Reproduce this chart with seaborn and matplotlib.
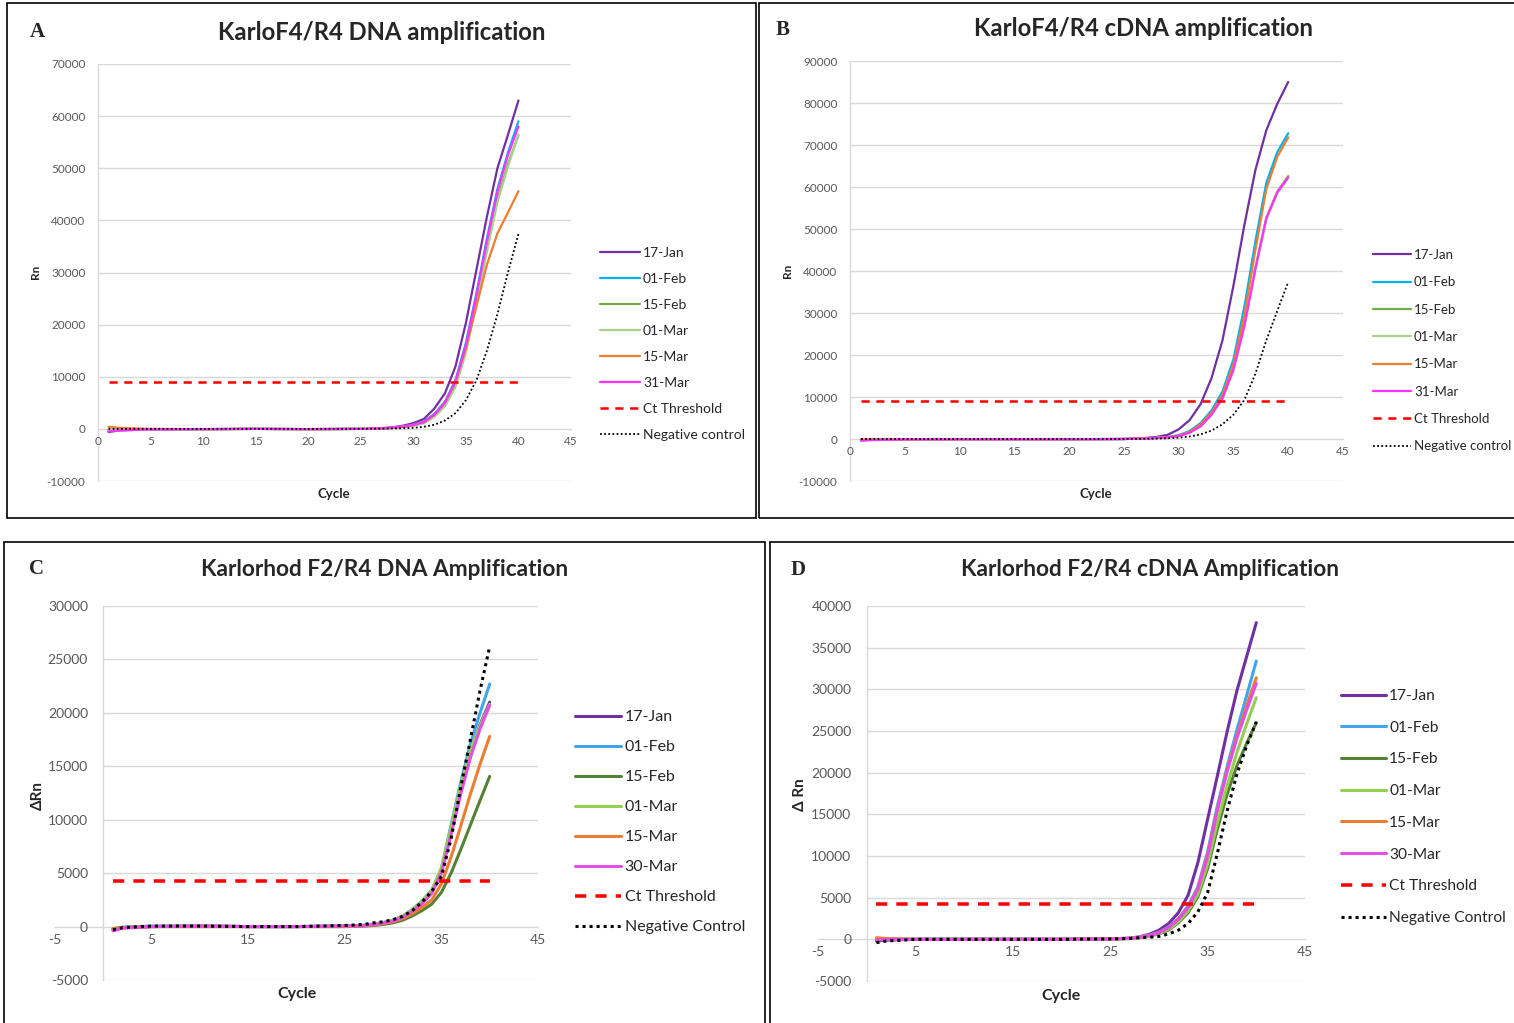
import matplotlib
matplotlib.use("Agg")
import matplotlib.pyplot as plt
from matplotlib.patches import Rectangle
import seaborn as sns

# ---------------------------------------------------------------- data
CYCLES = [1, 2, 5, 10, 15, 20, 25, 27, 28, 29, 30, 31, 32, 33, 34, 35, 36, 37, 38, 39, 40]
THRESHOLD_CYCLES = [1, 40]

# A: KarloF4/R4 DNA amplification (Rn)
A_LABELS = ["17-Jan", "01-Feb", "15-Feb", "01-Mar", "15-Mar", "31-Mar"]
A_JAN17 = [-600, -300, -100, -50, 0, -50, 0, 150, 300, 600, 1100, 1900, 3900, 6800, 11900, 20300, 30500, 40700, 50000, 56400, 63000]
A_FEB01 = [-300, -200, -100, -50, 0, -50, 0, 100, 200, 450, 800, 1400, 2900, 5200, 9300, 16500, 26000, 36500, 46000, 53000, 59000]
A_FEB15 = [-200, -150, -80, -50, 0, -50, 0, 80, 180, 380, 650, 1150, 2400, 4500, 8300, 15000, 24500, 34500, 44000, 50800, 56300]
A_MAR01 = [-250, -150, -80, -50, 0, -50, 0, 80, 170, 350, 600, 1100, 2300, 4300, 8000, 14600, 24000, 34000, 43500, 50300, 56500]
A_MAR15 = [400, 200, 0, -50, 0, -50, 0, 100, 200, 420, 750, 1300, 2700, 5000, 9000, 15500, 23500, 31500, 37500, 41500, 45600]
A_MAR31 = [-500, -300, -100, -50, 0, -50, 0, 100, 220, 470, 750, 1300, 2700, 5000, 9000, 16000, 25500, 36000, 45500, 52500, 58000]
A_NEG = [0, 0, 0, 0, 0, 0, 0, 50, 80, 130, 200, 400, 800, 1600, 3000, 5500, 9300, 15000, 22000, 30000, 37400]
A_THRESHOLD = 9000

# B: KarloF4/R4 cDNA amplification (Rn)
B_LABELS = ["17-Jan", "01-Feb", "15-Feb", "01-Mar", "15-Mar", "31-Mar"]
B_JAN17 = [-300, -200, -100, -50, -50, -50, 0, 250, 500, 1000, 2300, 4500, 8300, 14500, 23500, 36500, 51000, 64000, 73500, 79800, 85000]
B_FEB01 = [-200, -150, -100, -50, -50, -50, 0, 150, 300, 500, 900, 1900, 3800, 6800, 11300, 19000, 31500, 47000, 61000, 68300, 72800]
B_FEB15 = [-200, -150, -100, -50, -50, -50, 0, 120, 250, 420, 720, 1550, 3100, 5900, 9900, 16800, 27300, 40800, 52700, 58900, 62600]
B_MAR01 = [-150, -100, -100, -50, -50, -50, 0, 110, 230, 400, 700, 1500, 3000, 5700, 9600, 16300, 26800, 40300, 52300, 58500, 62200]
B_MAR15 = [-100, -100, -50, -50, -50, -50, 0, 130, 260, 450, 800, 1700, 3500, 6300, 10500, 17800, 29500, 45000, 59500, 67200, 71800]
B_MAR31 = [-400, -250, -100, -50, -50, -50, 0, 120, 240, 400, 700, 1500, 3000, 5800, 9700, 16500, 27000, 40500, 52500, 58700, 62300]
B_NEG = [0, 0, 0, 0, 0, 0, 0, 50, 100, 180, 300, 600, 1100, 2000, 3500, 5800, 9300, 15500, 23500, 30500, 37400]
B_THRESHOLD = 9000

# C: Karlorhod F2/R4 DNA Amplification (dRn)
C_LABELS = ["17-Jan", "01-Feb", "15-Feb", "01-Mar", "15-Mar", "30-Mar"]
C_JAN17 = [-300, -100, 0, 50, 0, 0, 50, 100, 200, 350, 550, 900, 1500, 2200, 3200, 5200, 9000, 12900, 16300, 18900, 21000]
C_FEB01 = [-200, -50, 50, 50, 0, 0, 50, 120, 220, 380, 600, 1000, 1600, 2400, 3400, 5400, 9500, 13500, 17100, 20000, 22700]
C_FEB15 = [-200, -100, 0, 0, 0, 0, 0, 50, 100, 200, 350, 600, 1000, 1500, 2100, 3200, 5000, 7200, 9500, 11800, 14050]
C_MAR01 = [-250, -100, 0, 50, 0, 0, 50, 120, 220, 380, 600, 1000, 1600, 2400, 3400, 5500, 9300, 13200, 16500, 18800, 20800]
C_MAR15 = [-200, -100, 0, 0, 0, 0, 0, 80, 150, 280, 450, 750, 1200, 1800, 2500, 4000, 6500, 9400, 12400, 15200, 17800]
C_MAR30 = [-400, -150, 0, 50, 0, 0, 50, 100, 200, 340, 530, 870, 1450, 2150, 3100, 5000, 8600, 12400, 15800, 18500, 20700]
C_NEG = [-300, -100, 50, 50, 0, 0, 100, 200, 350, 450, 650, 950, 1500, 2300, 3300, 4700, 8200, 13000, 17500, 22100, 26200]
C_THRESHOLD = 4300

# D: Karlorhod F2/R4 cDNA Amplification (dRn)
D_LABELS = ["17-Jan", "01-Feb", "15-Feb", "01-Mar", "15-Mar", "30-Mar"]
D_JAN17 = [-200, -100, 0, 0, 0, 0, 50, 150, 300, 600, 1100, 1900, 3200, 5300, 9200, 14400, 19600, 24900, 29800, 33900, 38000]
D_FEB01 = [100, 0, 0, 0, 0, 0, 50, 120, 250, 500, 850, 1500, 2500, 4000, 6300, 10500, 16000, 20700, 25100, 29200, 33400]
D_FEB15 = [-100, 0, 0, 0, 0, 0, 50, 100, 200, 380, 650, 1100, 2000, 3200, 5100, 8500, 13200, 17400, 20800, 23500, 26000]
D_MAR01 = [0, 0, 0, 0, 0, 0, 50, 110, 220, 400, 700, 1200, 2100, 3400, 5400, 9000, 14000, 18400, 22400, 25800, 29000]
D_MAR15 = [200, 100, 0, 0, 0, 0, 50, 120, 240, 460, 820, 1420, 2450, 3850, 6100, 10200, 15600, 20300, 24400, 28000, 31400]
D_MAR30 = [-100, 0, 0, 0, 0, 0, 50, 110, 230, 450, 800, 1400, 2400, 3800, 6000, 10000, 15500, 20100, 24100, 27500, 30700]
D_NEG = [-400, -200, 0, 0, 0, 0, 50, 100, 200, 250, 350, 650, 1100, 1900, 3300, 5600, 10300, 15400, 19800, 23200, 26100]
D_THRESHOLD = 4200

# ---------------------------------------------------------------- style
sns.set_theme(style="white")
plt.rcParams["font.family"] = ["Lato", "DejaVu Sans"]
plt.rcParams["axes.unicode_minus"] = False

W, H = 1514, 1023
fig = plt.figure(figsize=(W / 100, H / 100), dpi=100)
fig.patch.set_facecolor("white")

COLORS_AB = ["#7030A0", "#00B0F0", "#70AD47", "#A9D18E", "#ED7D31", "#FF33FF"]
COLORS_CD = ["#7030A0", "#41A5EE", "#548235", "#92D050", "#ED7D31", "#E64CE6"]
GRID = "#D9D9D9"
TICK = "#595959"


def px_box(left, top, right, bottom):
    return [left / W, 1 - bottom / H, (right - left) / W, (bottom - top) / H]


def panel(box, series, colors, labels, threshold, neg, xlim, xticks, yticks,
          lw, dot_lw, tick_fs, ypad, legend_xy, legend_fs, legend_sp, neg_label):
    ax = fig.add_axes(px_box(*box))
    ax.set_facecolor("white")
    for vals, col, lab in zip(series, colors, labels):
        sns.lineplot(x=CYCLES, y=vals, ax=ax, color=col, linewidth=lw,
                     label=lab, estimator=None, sort=False)
    sns.lineplot(x=THRESHOLD_CYCLES, y=[threshold, threshold], ax=ax,
                 color="#FF0000", linewidth=lw * 1.15, linestyle=(0, (3.2, 2.6)),
                 label="Ct Threshold", estimator=None, sort=False)
    sns.lineplot(x=CYCLES, y=neg, ax=ax, color="black", linewidth=dot_lw,
                 linestyle=(0, (1, 1.3)), label=neg_label, estimator=None, sort=False)
    for line in ax.get_lines():
        line.set_solid_joinstyle("round")

    ax.set_xlim(*xlim)
    ax.set_ylim(yticks[0], yticks[-1])
    ax.set_xticks(xticks)
    ax.set_yticks(yticks)
    ax.hlines([t for t in yticks if t != 0], 0, 45, color=GRID, lw=1.0, zorder=0)
    for s in ("top", "right"):
        ax.spines[s].set_visible(False)
    ax.spines["bottom"].set_position(("data", 0))
    ax.spines["left"].set_position(("data", 0))
    for s in ("bottom", "left"):
        ax.spines[s].set_color(GRID)
        ax.spines[s].set_linewidth(1.0)
        ax.spines[s].set_zorder(0)
    ax.tick_params(axis="both", length=0, labelsize=tick_fs, labelcolor=TICK)
    ax.tick_params(axis="y", pad=ypad)
    ax.tick_params(axis="x", pad=5)
    ax.set_xlabel("")
    ax.set_ylabel("")
    leg = ax.legend(loc="upper left", bbox_to_anchor=(legend_xy[0] / W, 1 - legend_xy[1] / H),
                    bbox_transform=fig.transFigure, frameon=False, borderpad=0,
                    borderaxespad=0, handlelength=2.9, handletextpad=0.2,
                    labelspacing=legend_sp, fontsize=legend_fs)
    for t in leg.get_texts():
        t.set_color("#262626")
    return ax


panel((98, 64, 571, 481),
      [A_JAN17, A_FEB01, A_FEB15, A_MAR01, A_MAR15, A_MAR31], COLORS_AB, A_LABELS,
      A_THRESHOLD, A_NEG, (0, 45), list(range(0, 46, 5)), list(range(-10000, 70001, 10000)),
      1.6, 1.3, 8.5, 9, (600, 247), 10, 1.01, "Negative control")

panel((850, 61, 1343, 481),
      [B_JAN17, B_FEB01, B_FEB15, B_MAR01, B_MAR15, B_MAR31], COLORS_AB, B_LABELS,
      B_THRESHOLD, B_NEG, (0, 45), list(range(0, 46, 5)), list(range(-10000, 90001, 10000)),
      1.6, 1.3, 8.5, 9, (1373, 249), 9.5, 1.16, "Negative control")

panel((55, 606, 538, 980),
      [C_JAN17, C_FEB01, C_FEB15, C_MAR01, C_MAR15, C_MAR30], COLORS_CD, C_LABELS,
      C_THRESHOLD, C_NEG, (-5, 45), list(range(-5, 46, 10)), list(range(-5000, 30001, 5000)),
      2.2, 2.2, 10, 11, (575, 710), 11.5, 0.99, "Negative Control")

panel((818, 606, 1305, 981),
      [D_JAN17, D_FEB01, D_FEB15, D_MAR01, D_MAR15, D_MAR30], COLORS_CD, D_LABELS,
      D_THRESHOLD, D_NEG, (-5, 45), list(range(-5, 46, 10)), list(range(-5000, 40001, 5000)),
      2.2, 2.2, 10, 11, (1341, 689), 11.2, 1.14, "Negative Control")

# ---------------------------------------------------------------- frames and text
for x0, y0, x1, y1 in [(7, 3, 756, 518), (759, 3, 1530, 518),
                       (4, 542, 765, 1040), (770, 542, 1530, 1040)]:
    fig.add_artist(Rectangle((x0 / W, 1 - y1 / H), (x1 - x0) / W, (y1 - y0) / H,
                             transform=fig.transFigure, fill=False, ec="black", lw=1.2))


def ftext(x, y, s, **kw):
    fig.text(x / W, 1 - y / H, s, ha="center", va="center", **kw)


for x, y, s in [(37, 32, "A"), (783, 30, "B"), (36, 569, "C"), (798, 570, "D")]:
    ftext(x, y, s, fontsize=15, fontweight="bold", family="Liberation Serif")

ftext(382, 32, "KarloF4/R4 DNA amplification", fontsize=17.2, fontweight="bold")
ftext(1144, 28, "KarloF4/R4 cDNA amplification", fontsize=17.2, fontweight="bold")
ftext(385, 570, "Karlorhod F2/R4 DNA Amplification", fontsize=16.3, fontweight="bold")
ftext(1150, 570, "Karlorhod F2/R4 cDNA Amplification", fontsize=16.3, fontweight="bold")

ftext(36, 272, "Rn", fontsize=8.5, fontweight="bold", rotation=90)
ftext(334, 494, "Cycle", fontsize=9.5, fontweight="bold")
ftext(787, 271, "Rn", fontsize=8.5, fontweight="bold", rotation=90)
ftext(1096, 494, "Cycle", fontsize=9.5, fontweight="bold")
ftext(38, 795, "ΔRn", fontsize=11, fontweight="bold", rotation=90)
ftext(297, 994, "Cycle", fontsize=11.5, fontweight="bold")
ftext(800, 795, "Δ Rn", fontsize=11, fontweight="bold", rotation=90)
ftext(1061, 996, "Cycle", fontsize=11.5, fontweight="bold")

fig.savefig("out.png", dpi=100, facecolor="white")
